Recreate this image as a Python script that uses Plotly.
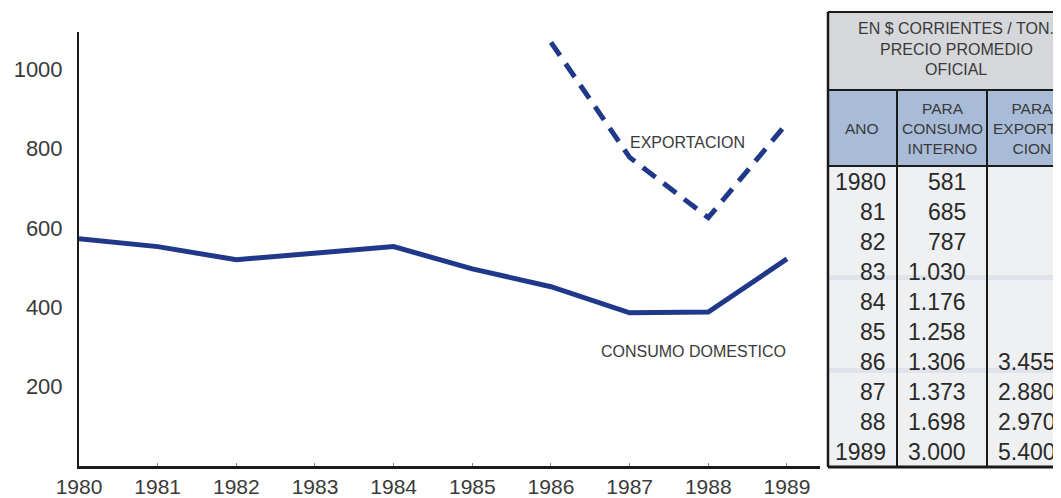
import plotly.graph_objects as go

# ---------------- data ----------------
years = [1980, 1981, 1982, 1983, 1984, 1985, 1986, 1987, 1988, 1989]
consumo_domestico = [573, 553, 520, 538, 553, 497, 452, 386, 388, 522]
export_years = [1986, 1987, 1988, 1989]
exportacion = [1068, 778, 626, 864]

y_ticks = [200, 400, 600, 800, 1000]

table_title = ["EN $ CORRIENTES / TON.", "PRECIO PROMEDIO", "OFICIAL"]
table_headers = ["ANO", "PARA<br>CONSUMO<br>INTERNO", "PARA<br>EXPORTA-<br>CION"]
table_years = ["1980", "81", "82", "83", "84", "85", "86", "87", "88", "1989"]
table_interno = ["581", "685", "787", "1.030", "1.176", "1.258", "1.306", "1.373", "1.698", "3.000"]
table_export = ["", "", "", "", "", "", "3.455", "2.880", "2.970", "5.400"]

# ---------------- layout geometry ----------------
# the page body adds an 8px offset; positions below are in screen pixels
OFF = 8
W, H = 1061 - OFF, 498 - OFF
L = 79 - OFF
T = 32 - OFF
B = H - (466 - OFF)
R = W - (820 - OFF)
PW, PH = W - L - R, H - T - B

def px(x):
    return (x - OFF - L) / PW

def py(y):
    return (H - B - (y - OFF)) / PH

LINE_COLOR = "#1f388a"
TEXT_COLOR = "#3a3a3a"
FONT = "Liberation Sans, Arial, sans-serif"

fig = go.Figure()
fig.add_trace(go.Scatter(
    x=years, y=consumo_domestico, mode="lines",
    line=dict(color=LINE_COLOR, width=5), cliponaxis=False, hoverinfo="skip"))
fig.add_trace(go.Scatter(
    x=export_years, y=exportacion, mode="lines",
    line=dict(color=LINE_COLOR, width=5, dash="16px,10px"), cliponaxis=False, hoverinfo="skip"))

shapes = []
annotations = []

def text(x, y, t, size, color=TEXT_COLOR, xanchor="center"):
    annotations.append(dict(x=px(x), y=py(y), xref="paper", yref="paper", text=t,
                            showarrow=False, xanchor=xanchor, yanchor="middle", align="center",
                            font=dict(family=FONT, size=size, color=color)))

# chart labels
text(687, 142, "EXPORTACION", 16)
text(693, 351, "CONSUMO DOMESTICO", 16)

# ---------------- table (drawn with shapes + text) ----------------
tx0, tx1 = 828, 1080
c1, c2 = 897, 987
ty0, ty1, ty2, ty3 = 12, 90, 166, 467
n = len(table_years)
row_h = (ty3 - 1 - ty2) / n

def rect(x0, y0, x1, y1, fill):
    shapes.append(dict(type="rect", xref="paper", yref="paper", layer="below",
                       x0=px(x0), x1=px(x1), y0=py(y1), y1=py(y0),
                       fillcolor=fill, line=dict(width=0)))

def hline(y, x0, x1, w=2):
    shapes.append(dict(type="line", xref="paper", yref="paper",
                       x0=px(x0), x1=px(x1), y0=py(y), y1=py(y),
                       line=dict(color="#1a1a1a", width=w)))

def vline(x, y0, y1, w=2):
    shapes.append(dict(type="line", xref="paper", yref="paper",
                       x0=px(x), x1=px(x), y0=py(y0), y1=py(y1),
                       line=dict(color="#1a1a1a", width=w)))

rect(tx0, ty0, tx1, ty1, "#d5d7da")
rect(tx0, ty1, tx1, ty2, "#a9bcd7")
rect(tx0, ty2, tx1, ty3, "#eef0f2")
# faint printed bands
rect(tx0, 275, tx1, 280, "#dfe4ec")
rect(tx0, 368, tx1, 373, "#dfe4ec")

hline(ty0, tx0, tx1, 2)
hline(ty1, tx0, tx1, 2)
hline(ty2, tx0, tx1, 2)
hline(ty3, tx0, tx1, 3)
vline(tx0, ty0, ty3, 2.5)
vline(c1, ty1, ty3, 2)
vline(c2, ty1, ty3, 2)

# title text
for i, t in enumerate(table_title):
    text(956, 29 + 20.5 * i, t, 16)
# header text
for cx, t in zip([862, 942, 1032], table_headers):
    text(cx, 129, t, 15.5)
# body
for i in range(n):
    yc = ty2 + row_h * (i + 0.5) + 1
    for rx, vals in zip([888, 968, 1058], [table_years, table_interno, table_export]):
        if vals[i]:
            text(rx, yc, vals[i], 23, color="#2a2a2a", xanchor="right")

fig.update_layout(
    width=W, height=H,
    margin=dict(l=L, r=R, t=T, b=B, autoexpand=False),
    paper_bgcolor="white", plot_bgcolor="white",
    showlegend=False,
    shapes=shapes, annotations=annotations,
    xaxis=dict(range=[1980, 1989.42], tickvals=years, ticktext=[str(y) for y in years],
               automargin=False,
               showgrid=False, zeroline=False, showline=True, linecolor="#1a1a1a", linewidth=2.5,
               ticks="inside", ticklen=3, tickcolor="#888", ticklabelstandoff=0,
               tickfont=dict(family=FONT, size=21, color=TEXT_COLOR)),
    yaxis=dict(range=[0, 1094], tickvals=y_ticks, ticktext=[str(v) for v in y_ticks],
               automargin=False,
               showgrid=False, zeroline=False, showline=True, linecolor="#1a1a1a", linewidth=2,
               ticks="", ticklabelstandoff=10,
               tickfont=dict(family=FONT, size=22, color=TEXT_COLOR)),
)

fig.write_html("out.html")
